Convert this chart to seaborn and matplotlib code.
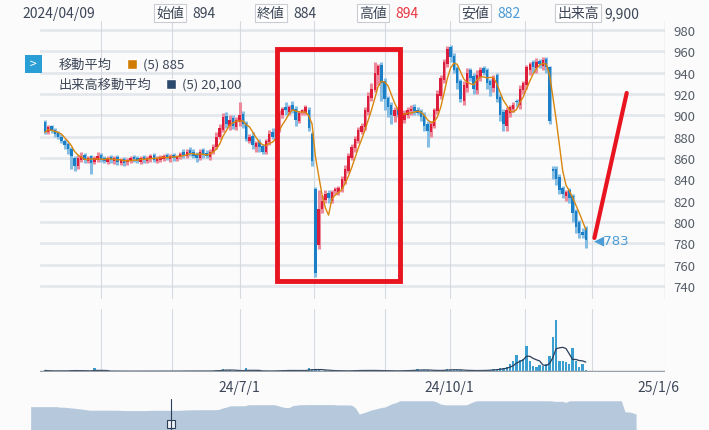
import numpy as np
import pandas as pd
import seaborn as sns
import matplotlib.pyplot as plt
from matplotlib.patches import Rectangle

# ---- data ----
opens = [894,884,890,886,883,880,876,873,868,860,
         852,858,863,857,862,856,858,863,860,856,
         861,857,861,855,859,856,857,861,860,856,
         861,857,859,863,857,858,859,863,859,863,
         859,861,866,862,867,866,863,860,867,865,
         861,866,870,880,886,899,890,897,889,894,
         901,893,876,881,870,875,871,866,875,884,
         878,886,900,908,903,910,906,895,903,902,
         905,882,831,778,812,821,827,820,829,828,
         831,838,848,860,869,876,884,889,903,916,
         924,938,947,932,916,910,899,906,902,896,
         900,904,908,905,904,900,892,884,890,904,
         918,933,948,964,956,944,932,913,926,942,
         937,924,936,944,942,932,926,938,917,903,
         890,902,906,913,910,924,928,942,950,944,
         951,946,953,945,850,850,842,832,824,830,
         824,810,800,791,794]
closes = [884,889,885,882,880,876,872,868,862,852,
          860,862,858,860,855,860,862,858,857,860,
          858,860,856,858,855,858,860,859,857,860,
          858,860,862,858,860,861,862,860,862,860,
          862,864,863,866,865,862,860,866,864,862,
          866,870,880,888,898,892,896,890,896,900,
          892,878,880,872,874,870,866,876,882,880,
          886,902,906,905,908,905,896,902,904,908,
          888,857,752,812,820,826,822,828,830,832,
          840,850,862,870,878,886,890,905,918,925,
          940,946,930,915,908,900,905,900,898,902,
          905,906,904,902,898,890,885,892,905,920,
          935,950,962,955,942,930,915,928,940,935,
          925,938,942,940,930,928,935,915,900,892,
          905,908,910,912,925,930,945,948,945,950,
          948,952,945,895,848,840,830,826,828,822,
          808,795,790,788,783]
highs = [896,891,891,888,885,882,878,875,870,862,
         863,866,865,862,863,862,866,865,862,862,
         863,862,863,860,861,860,862,863,862,862,
         863,862,864,865,862,863,864,865,864,865,
         863,866,868,868,870,868,866,868,869,867,
         868,873,884,892,902,903,900,900,898,912,
         904,895,882,884,876,878,873,878,886,888,
         888,905,908,912,910,913,909,904,906,910,
         908,884,833,830,825,830,830,830,833,834,
         843,853,865,873,881,889,893,908,922,930,
         950,948,950,935,918,912,908,908,905,905,
         908,910,911,908,906,903,895,895,907,924,
         938,953,965,966,958,946,934,932,944,944,
         940,942,945,946,944,934,938,940,920,906,
         908,910,912,915,928,932,947,950,952,954,
         953,955,955,946,852,852,845,834,830,832,
         826,812,802,794,796]
lows = [882,882,883,880,878,874,868,864,850,848,
        850,856,855,855,845,854,856,856,855,854,
        855,854,853,853,852,853,855,856,855,854,
        855,855,856,856,855,856,857,858,856,857,
        857,859,860,860,862,860,856,858,860,860,
        858,864,868,878,884,888,886,887,886,890,
        888,876,874,868,866,866,864,864,872,878,
        874,884,897,900,900,902,890,893,900,900,
        885,852,748,775,808,818,818,818,826,825,
        828,836,846,858,866,874,882,886,900,913,
        922,928,913,905,898,892,894,898,890,893,
        897,900,900,900,895,885,870,880,888,901,
        915,930,945,950,940,925,912,910,922,932,
        920,920,932,938,925,918,922,912,895,885,
        885,898,903,908,906,920,925,938,940,940,
        944,942,940,892,840,835,826,822,820,818,
        800,790,785,785,776]
volumes_k = [9,6,5,5,6,7,8,6,9,10,
             7,6,5,6,8,20,6,5,5,4,
             5,5,4,4,5,5,4,4,5,4,
             4,4,5,4,4,5,4,4,5,5,
             5,5,6,5,5,4,5,6,5,5,
             6,8,9,12,15,10,9,8,7,7,
             6,20,8,7,6,5,5,6,6,6,
             7,8,9,10,9,8,7,8,9,10,
             20,15,15,10,8,9,8,7,7,6,
             6,6,7,8,9,10,9,8,9,10,
             8,7,7,6,6,6,7,7,8,8,
             9,10,12,15,12,10,9,8,8,9,
             10,12,15,14,12,10,9,8,8,9,
             8,8,9,10,10,12,15,18,20,25,
             30,45,60,95,70,75,150,60,35,30,
             40,35,45,90,200,295,60,60,55,45,
             138,60,30,45,10]
price_ticks = [740, 760, 780, 800, 820, 840, 860, 880, 900, 920, 940, 960, 980]
grid_days = [17, 38.5, 59, 81.5, 103, 122.7, 145.5, 166, 188]
date_days = [59, 122.7, 186]
date_labels = ["24/7/1", "24/10/1", "25/1/6"]

df = pd.DataFrame({"day": np.arange(len(closes)), "open": opens, "close": closes,
                   "high": highs, "low": lows, "volume": np.array(volumes_k) * 1000})
df["ma"] = df["close"].rolling(5, min_periods=1).mean()
df["vma"] = df["volume"].rolling(5, min_periods=1).mean()

sns.set_style("white")
plt.rcParams['font.family'] = ['Noto Sans CJK JP', 'DejaVu Sans']

RED, RED_L = "#dc1e3c", "#ec8a9c"
BLUE, BLUE_L = "#1a7fc6", "#86bde3"
GRID = "#e4e7ec"
TXT = "#3c4657"

fig = plt.figure(figsize=(7.09, 4.31), dpi=100)
fig.patch.set_facecolor("#fbfbfc")
xlim = (-1.5, 188)

# ---- main price panel ----
ax = fig.add_axes([0.0564, 0.304, 0.8815, 0.645])
ax.set_facecolor("#fbfbfc")
ax.set_xlim(*xlim)
ax.set_ylim(727.8, 988.4)
for p in price_ticks:
    ax.axhline(p, color=GRID, lw=2, zorder=0)
for d in grid_days:
    ax.axvline(d, color="#d6d9de", lw=0.8, zorder=0)

up = df["close"] >= df["open"]
for sel, c, cl in [(up, RED, RED_L), (~up, BLUE, BLUE_L)]:
    s = df[sel]
    ax.vlines(s["day"], s["low"], s["high"], color=cl, lw=2.2, zorder=2)
    ax.bar(s["day"], (s["close"] - s["open"]).abs().clip(lower=1.5),
           bottom=np.minimum(s["open"], s["close"]), width=0.75, color=c,
           lw=0, zorder=3)
sns.lineplot(data=df, x="day", y="ma", color="#d9860c", lw=1.0, ax=ax, zorder=4)

ax.yaxis.tick_right()
ax.set_yticks(price_ticks)
ax.tick_params(axis="y", length=0, labelsize=9.5, labelcolor="#555c66", pad=6)
ax.set_xticks([])
ax.set_xlabel("")
ax.set_ylabel("")
for sp in ax.spines.values():
    sp.set_visible(False)
ax.axvline(xlim[1], color="#d6d9de", lw=1)

# last price marker
ax.text(166.6, 783, "◀783", color="#4a9bd6", fontsize=9.5, va="center", ha="left",
        family=['DejaVu Sans'])

# red annotations
ax.add_patch(Rectangle((70.5, 744.7), 37.3, 217.5, fill=False, ec="#e8141f", lw=3.5, zorder=6))
ax.plot([176.4, 166.6], [920.9, 785], color="#e8141f", lw=3, zorder=6)

# ---- volume panel ----
axv = fig.add_axes([0.0564, 0.1346, 0.8815, 0.1461])
axv.set_facecolor("#fbfbfc")
axv.set_xlim(*xlim)
axv.set_ylim(0, 360000)
for d in grid_days:
    axv.axvline(d, color="#d6d9de", lw=0.8, zorder=0)
axv.bar(df["day"], df["volume"], width=0.7, color="#3a9fd0", lw=0, zorder=2)
sns.lineplot(data=df, x="day", y="vma", color="#2c3e5a", lw=0.9, ax=axv, zorder=3)
axv.axhline(0, color="#9aa0a8", lw=2.5, zorder=4)
axv.set_xticks(date_days)
axv.set_xticklabels(date_labels)
axv.tick_params(axis="x", length=0, labelsize=10, labelcolor=TXT, pad=6)
axv.set_yticks([])
axv.set_xlabel("")
axv.set_ylabel("")
for sp in axv.spines.values():
    sp.set_visible(False)

# ---- navigator ----
axn = fig.add_axes([0.038, 0.0, 0.88, 0.072])
axn.set_xlim(-1, len(closes) + 3)
axn.set_ylim(700, 960)
axn.fill_between(df["day"], 700, df["high"].rolling(8, min_periods=1).max().clip(upper=945),
                 color="#b6c9dc", lw=0)
axn.set_facecolor("#eef1f5")
axn.axvline(38, color="#2c3e5a", lw=0.8)
axn.add_patch(Rectangle((37, 720), 2.2, 60, fc="#eef1f5", ec="#2c3e5a", lw=0.8))
axn.axis("off")

# ---- header and legend ----
fig.text(22 / 709, 1 - 14 / 431, "2024/04/09", fontsize=10, color=TXT, va="center")
box = dict(boxstyle="square,pad=0.15", fc="white", ec="#c9cdd3", lw=0.8)
header = [("始値", 156, "894", TXT), ("終値", 257, "884", TXT), ("高値", 359, "894", "#e8333f"),
          ("安値", 461, "882", "#4a9bd6"), ("出来高", 557, "9,900", TXT)]
for lab, x, val, col in header:
    fig.text(x / 709, 1 - 14 / 431, lab, fontsize=10, color=TXT, va="center", bbox=box)
    off = 36 if len(lab) == 2 else 47
    fig.text((x + off) / 709, 1 - 14 / 431, val, fontsize=10, color=col, va="center")

fig.text(27 / 709, 1 - 65 / 431, " > ", fontsize=9, color="white", va="center",
         bbox=dict(boxstyle="square,pad=0.2", fc="#2a9fd6", ec="none"))
fig.text(59 / 709, 1 - 65 / 431, "移動平均", fontsize=9.5, color=TXT, va="center")
fig.patches.append(Rectangle((127 / 709, 1 - 70 / 431), 10 / 709, 10 / 431,
                             fc="#d07c00", transform=fig.transFigure))
fig.text(143 / 709, 1 - 65 / 431, "(5) 885", fontsize=9.5, color=TXT, va="center")
fig.text(59 / 709, 1 - 85 / 431, "出来高移動平均", fontsize=9.5, color=TXT, va="center")
fig.patches.append(Rectangle((166 / 709, 1 - 90 / 431), 10 / 709, 10 / 431,
                             fc="#2c4a6e", transform=fig.transFigure))
fig.text(182 / 709, 1 - 85 / 431, "(5) 20,100", fontsize=9.5, color=TXT, va="center")

fig.savefig("out.png", dpi=100, facecolor=fig.get_facecolor())
